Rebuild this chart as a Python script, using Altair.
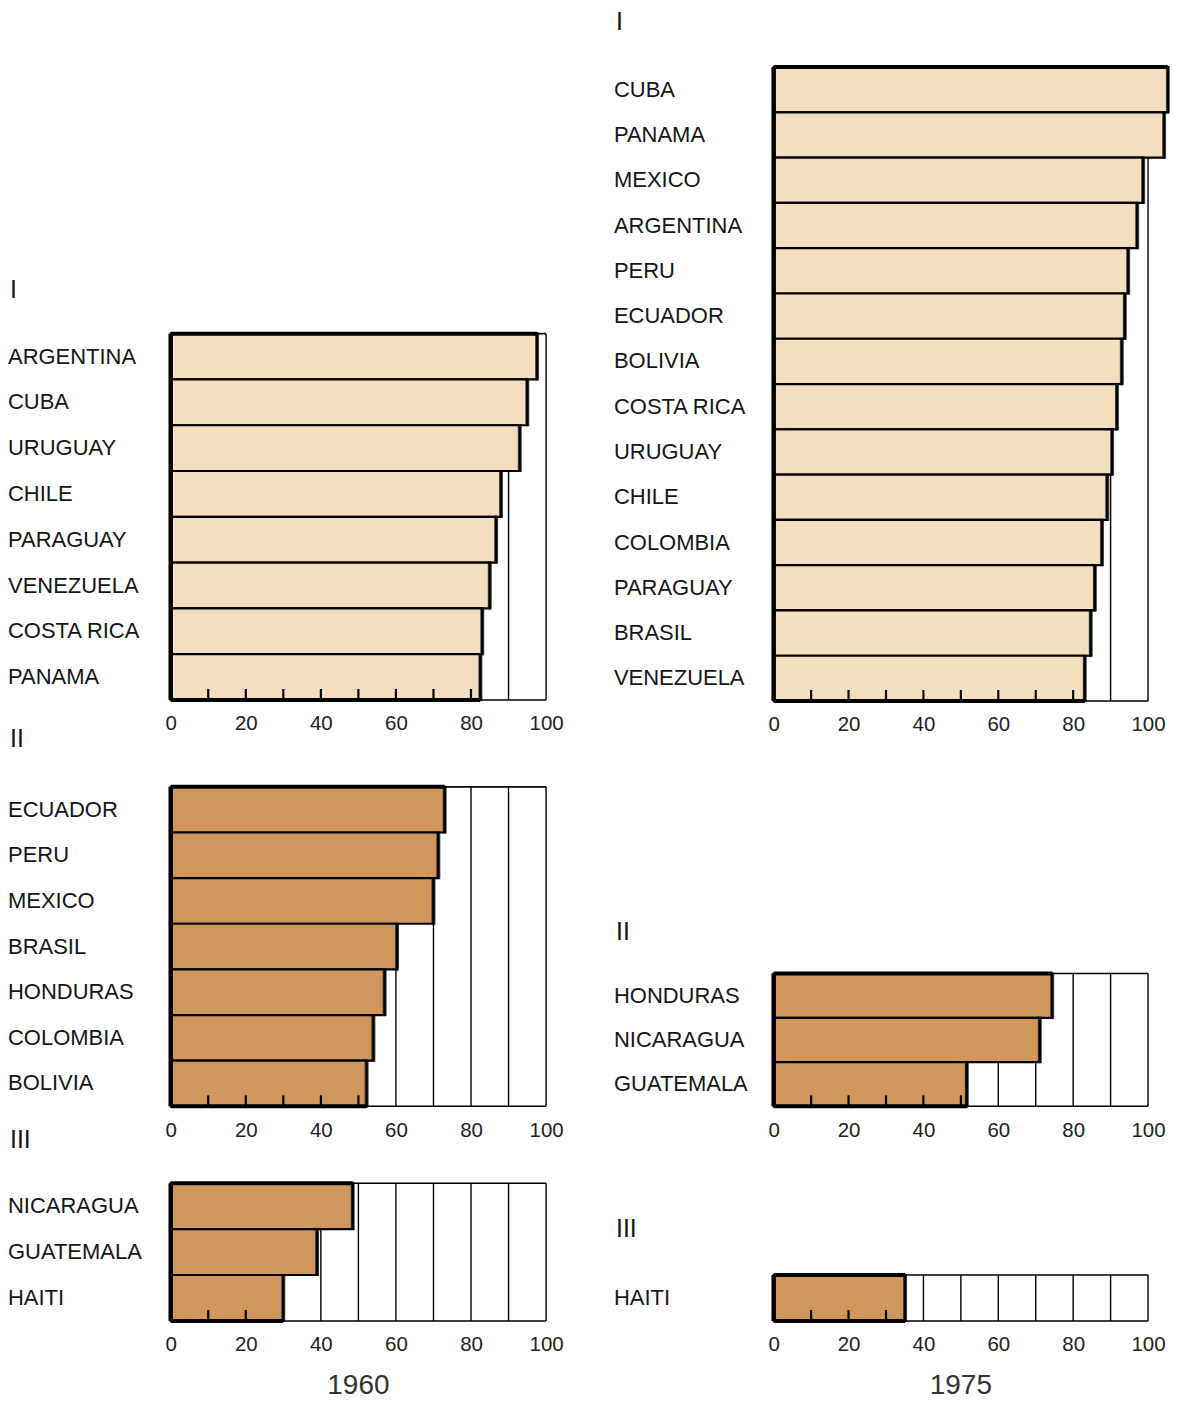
import altair as alt
import pandas as pd

# ---------------- data ----------------
years = ["1960", "1975"]
groups = ["I", "II", "III"]

c60_1 = ["ARGENTINA", "CUBA", "URUGUAY", "CHILE", "PARAGUAY", "VENEZUELA", "COSTA RICA", "PANAMA"]
v60_1 = [97.6, 95.0, 93.0, 88.0, 86.7, 85.0, 83.0, 82.5]
c60_2 = ["ECUADOR", "PERU", "MEXICO", "BRASIL", "HONDURAS", "COLOMBIA", "BOLIVIA"]
v60_2 = [73.0, 71.3, 70.0, 60.3, 57.0, 54.0, 52.2]
c60_3 = ["NICARAGUA", "GUATEMALA", "HAITI"]
v60_3 = [48.5, 39.0, 30.0]

c75_1 = ["CUBA", "PANAMA", "MEXICO", "ARGENTINA", "PERU", "ECUADOR", "BOLIVIA",
         "COSTA RICA", "URUGUAY", "CHILE", "COLOMBIA", "PARAGUAY", "BRASIL", "VENEZUELA"]
v75_1 = [105.3, 104.3, 98.7, 97.1, 94.7, 93.8, 93.0, 91.7, 90.4, 89.1, 87.7, 85.8, 84.7, 83.1]
c75_2 = ["HONDURAS", "NICARAGUA", "GUATEMALA"]
v75_2 = [74.4, 71.1, 51.6]
c75_3 = ["HAITI"]
v75_3 = [35.1]

axis_values = [0, 20, 40, 60, 80, 100]
grid_values = [10, 20, 30, 40, 50, 60, 70, 80, 90, 100]

# ---------------- style ----------------
LIGHT = "#F3DFC0"
BROWN = "#CF975C"
FONT = "Liberation Sans"


def panel(countries, values, group, color, width, height, label_x, group_y, year=None):
    df = pd.DataFrame({"country": countries, "value": values})
    xs = alt.Scale(domain=[0, 100], nice=False, zero=True)
    ys = alt.Scale(domain=countries, paddingInner=0, paddingOuter=0)
    xa = alt.Axis(values=axis_values, ticks=False, domain=False, grid=False,
                  labelPadding=14, labelFontSize=20.5, labelFont=FONT,
                  labelColor="#222", labelFlush=False, labelOverlap=False,
                  title=None)
    row_h = height / len(countries)

    def X(field):
        return alt.X(field, scale=xs, axis=xa, title=None)

    grid = alt.Chart(pd.DataFrame({"g": grid_values})).mark_rule(
        color="black", strokeWidth=1.4
    ).encode(x=X("g:Q"), y=alt.value(0), y2=alt.value(height))

    frame_df = pd.DataFrame({"a": [0], "b": [100]})
    top_thin = alt.Chart(frame_df).mark_rule(color="black", strokeWidth=1.6).encode(
        x=X("a:Q"), x2="b:Q", y=alt.value(0))
    bottom_thin = alt.Chart(frame_df).mark_rule(color="black", strokeWidth=1.6).encode(
        x=X("a:Q"), x2="b:Q", y=alt.value(height))

    bars = alt.Chart(df).mark_bar(color=color, stroke="black", strokeWidth=2.2).encode(
        x=alt.X("value:Q", scale=xs, axis=xa, title=None, stack=None),
        y=alt.Y("country:N", scale=ys, axis=None),
    )

    edges = alt.Chart(df).mark_tick(color="black", thickness=4, size=row_h + 2).encode(
        x=X("value:Q"),
        y=alt.Y("country:N", scale=ys, axis=None),
    )

    left = alt.Chart(pd.DataFrame({"a": [0]})).mark_rule(color="black", strokeWidth=4.5).encode(
        x=X("a:Q"), y=alt.value(0), y2=alt.value(height))

    top_thick = alt.Chart(pd.DataFrame({"a": [0], "b": [values[0]]})).mark_rule(
        color="black", strokeWidth=4).encode(x=X("a:Q"), x2="b:Q", y=alt.value(0))
    bottom_thick = alt.Chart(pd.DataFrame({"a": [0], "b": [values[-1]]})).mark_rule(
        color="black", strokeWidth=4).encode(x=X("a:Q"), x2="b:Q", y=alt.value(height))

    inner = [t for t in grid_values if t < min(values) - 1]
    inner_ticks = alt.Chart(pd.DataFrame({"t": inner})).mark_rule(
        color="black", strokeWidth=2.2).encode(
        x=X("t:Q"), y=alt.value(height - 11), y2=alt.value(height))

    names = alt.Chart(df).mark_text(
        align="left", baseline="middle", font=FONT, fontSize=22, color="#151515"
    ).encode(x=alt.value(label_x), y=alt.Y("country:N", scale=ys, axis=None), text="country:N")

    glabel = alt.Chart(pd.DataFrame({"g": [group]})).mark_text(
        align="left", baseline="alphabetic", font=FONT, fontSize=25, color="#151515"
    ).encode(x=alt.value(label_x + 2), y=alt.value(group_y), text="g:N")

    layers = [grid, top_thin, bottom_thin, bars, edges, left, top_thick, bottom_thick,
              inner_ticks, names, glabel]
    if year is not None:
        ylab = alt.Chart(pd.DataFrame({"y": [year]})).mark_text(
            align="center", baseline="middle", font=FONT, fontSize=28, color="#333"
        ).encode(x=alt.value(width / 2), y=alt.value(height + 65), text="y:N")
        layers.append(ylab)
    return alt.layer(*layers).properties(width=width, height=height)


def spacer(w, h):
    return alt.Chart(pd.DataFrame({"s": [0]})).mark_rect(opacity=0).encode(
        x=alt.value(0), x2=alt.value(w), y=alt.value(0), y2=alt.value(h)
    ).properties(width=w, height=h)


LW, RW = 376, 375

p60_1 = panel(c60_1, v60_1, groups[0], LIGHT, LW, 367, -163, -36)
p60_2 = panel(c60_2, v60_2, groups[1], BROWN, LW, 320, -163, -40)
p60_3 = panel(c60_3, v60_3, groups[2], BROWN, LW, 138, -163, -35, years[0])

p75_1 = panel(c75_1, v75_1, groups[0], LIGHT, RW, 635, -160, -37)
p75_2 = panel(c75_2, v75_2, groups[1], BROWN, RW, 133, -160, -34)
p75_3 = panel(c75_3, v75_3, groups[2], BROWN, RW, 46, -160, -38, years[1])

left_col = alt.vconcat(spacer(420, 325), p60_1, spacer(420, 87), p60_2, spacer(420, 77), p60_3,
                       spacing=0, bounds="flush")
right_col = alt.vconcat(spacer(RW, 58), p75_1, spacer(RW, 273), p75_2, spacer(RW, 169), p75_3,
                        spacing=0, bounds="flush")

chart = alt.hconcat(left_col, right_col, spacing=24).properties(padding=0).configure_view(
    strokeWidth=0)

chart.save("out.html", embed_options={"renderer": "svg", "actions": False})
